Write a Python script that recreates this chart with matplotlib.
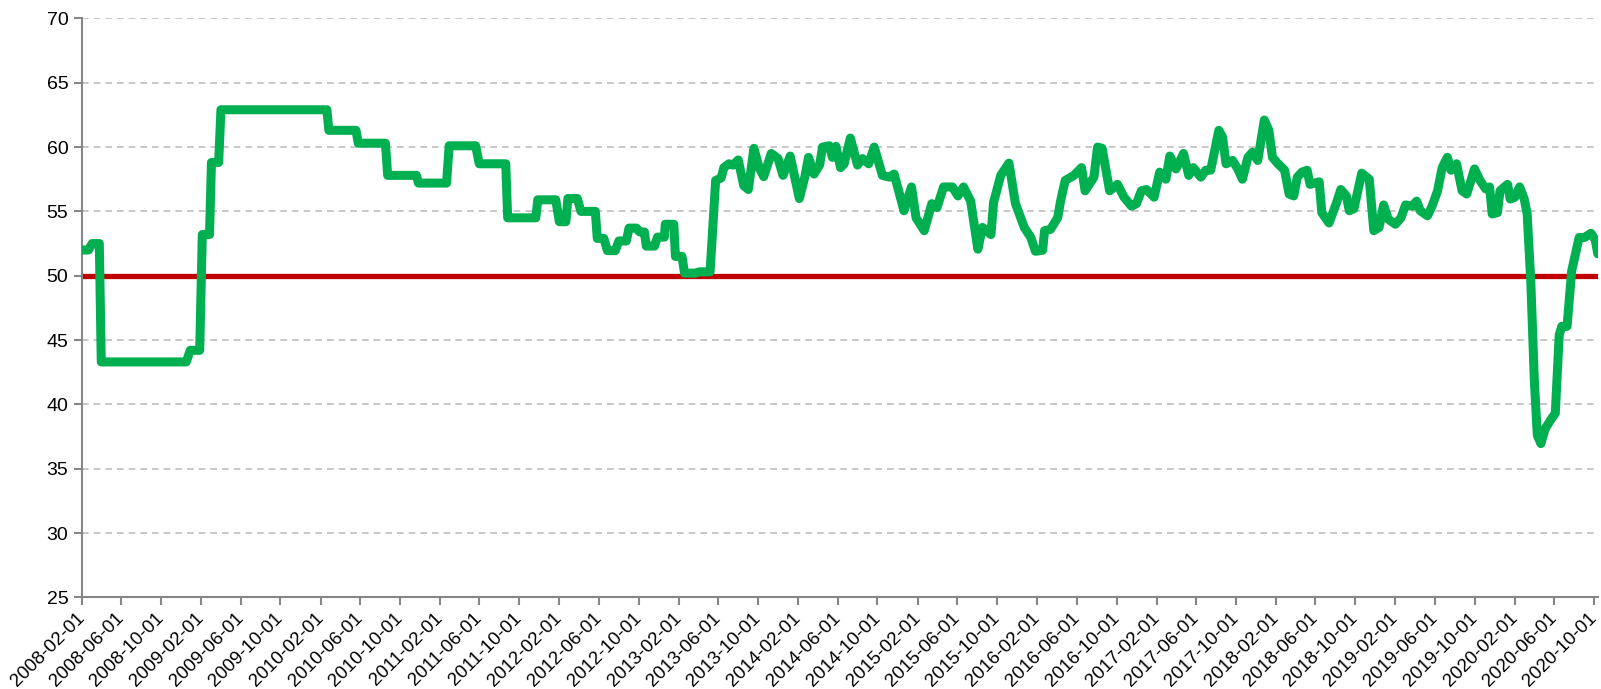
import numpy as np
import pandas as pd
import matplotlib
matplotlib.use('Agg')
import matplotlib.pyplot as plt
import matplotlib.dates as mdates
from matplotlib.transforms import ScaledTranslation

# values (vertices of the line)
dates = [
    '2008-02-01', '2008-02-22', '2008-03-04', '2008-03-26', '2008-04-01',
    '2008-12-17', '2008-12-29', '2009-01-27', '2009-02-04', '2009-02-26',
    '2009-03-04', '2009-03-26', '2009-04-02', '2010-02-20', '2010-02-26',
    '2010-05-20', '2010-05-27', '2010-08-18', '2010-08-25', '2010-11-21',
    '2010-11-27', '2011-02-21', '2011-03-01', '2011-05-21', '2011-06-01',
    '2011-08-21', '2011-08-27', '2011-11-21', '2011-11-27', '2012-01-21',
    '2012-02-01', '2012-02-21', '2012-02-27', '2012-03-27', '2012-04-07',
    '2012-05-21', '2012-05-27', '2012-06-16', '2012-06-27', '2012-07-21',
    '2012-08-01', '2012-08-24', '2012-09-01', '2012-09-24', '2012-10-04',
    '2012-10-18', '2012-10-24', '2012-11-18', '2012-11-27', '2012-12-18',
    '2012-12-21', '2013-01-16', '2013-01-21', '2013-02-10', '2013-02-18',
    '2013-03-24', '2013-04-04', '2013-05-07', '2013-05-16', '2013-05-24',
    '2013-06-10', '2013-06-18', '2013-07-04', '2013-07-16', '2013-08-01',
    '2013-08-18', '2013-09-01', '2013-09-18', '2013-10-04', '2013-10-18',
    '2013-11-10', '2013-12-01', '2013-12-16', '2014-01-07', '2014-02-04',
    '2014-02-21', '2014-03-04', '2014-03-21', '2014-04-07', '2014-04-16',
    '2014-05-07', '2014-05-16', '2014-05-27', '2014-06-10', '2014-06-21',
    '2014-07-10', '2014-08-01', '2014-08-16', '2014-09-04', '2014-09-21',
    '2014-10-16', '2014-11-07', '2014-11-21', '2014-12-21', '2015-01-13',
    '2015-01-27', '2015-02-21', '2015-03-16', '2015-04-01', '2015-04-21',
    '2015-05-18', '2015-06-04', '2015-06-21', '2015-07-13', '2015-08-04',
    '2015-08-18', '2015-09-13', '2015-09-21', '2015-10-13', '2015-11-07',
    '2015-11-27', '2015-12-24', '2016-01-13', '2016-01-27', '2016-02-18',
    '2016-02-24', '2016-03-13', '2016-04-04', '2016-04-13', '2016-04-27',
    '2016-05-24', '2016-06-16', '2016-06-27', '2016-07-24', '2016-08-04',
    '2016-08-18', '2016-09-10', '2016-10-04', '2016-10-24', '2016-11-16',
    '2016-12-01', '2016-12-16', '2017-01-01', '2017-01-24', '2017-02-10',
    '2017-03-01', '2017-03-13', '2017-04-01', '2017-04-24', '2017-05-10',
    '2017-05-24', '2017-06-16', '2017-07-01', '2017-07-16', '2017-08-10',
    '2017-08-21', '2017-09-01', '2017-09-21', '2017-10-07', '2017-10-21',
    '2017-11-07', '2017-11-21', '2017-12-07', '2017-12-27', '2018-01-10',
    '2018-01-21', '2018-02-07', '2018-02-27', '2018-03-13', '2018-03-27',
    '2018-04-07', '2018-04-21', '2018-05-07', '2018-05-16', '2018-06-13',
    '2018-06-21', '2018-07-13', '2018-08-04', '2018-08-18', '2018-09-04',
    '2018-09-13', '2018-09-27', '2018-10-21', '2018-11-13', '2018-11-27',
    '2018-12-13', '2018-12-27', '2019-01-10', '2019-02-01', '2019-02-18',
    '2019-03-04', '2019-03-24', '2019-04-07', '2019-04-18', '2019-05-10',
    '2019-05-24', '2019-06-10', '2019-06-24', '2019-07-10', '2019-07-21',
    '2019-08-07', '2019-08-24', '2019-09-07', '2019-10-01', '2019-10-18',
    '2019-11-04', '2019-11-16', '2019-11-24', '2019-12-10', '2019-12-18',
    '2020-01-10', '2020-01-18', '2020-02-01', '2020-02-16', '2020-03-01',
    '2020-03-10', '2020-03-21', '2020-04-01', '2020-04-10', '2020-04-21',
    '2020-05-04', '2020-05-21', '2020-06-04', '2020-06-16', '2020-06-24',
    '2020-07-10', '2020-07-24', '2020-08-16', '2020-09-01', '2020-09-21',
    '2020-10-04', '2020-10-12',
]
values = [
    52.0, 52.0, 52.5, 52.5, 43.3,
    43.3, 44.2, 44.2, 53.2, 53.2,
    58.8, 58.8, 62.9, 62.9, 61.3,
    61.3, 60.3, 60.3, 57.8, 57.8,
    57.2, 57.2, 60.1, 60.1, 58.7,
    58.7, 54.5, 54.5, 55.9, 55.9,
    54.2, 54.2, 56.0, 56.0, 55.0,
    55.0, 52.9, 52.9, 51.95, 51.95,
    52.7, 52.7, 53.7, 53.7, 53.4,
    53.4, 52.3, 52.3, 53.0, 53.0,
    54.0, 54.0, 51.5, 51.5, 50.2,
    50.2, 50.3, 50.3, 54.0, 57.4,
    57.6, 58.4, 58.7, 58.6, 59.0,
    57.0, 56.7, 59.9, 58.4, 57.7,
    59.5, 59.1, 57.8, 59.3, 56.0,
    57.7, 59.2, 57.9, 58.6, 60.0,
    60.1, 59.2, 60.05, 58.4, 58.7,
    60.7, 58.6, 59.1, 58.7, 60.0,
    57.8, 57.66, 57.9, 55.05, 56.9,
    54.5, 53.5, 55.6, 55.3, 56.9,
    56.9, 56.2, 56.9, 55.8, 52.06,
    53.75, 53.2, 55.7, 57.8, 58.75,
    55.6, 53.75, 52.97, 51.9, 51.98,
    53.5, 53.6, 54.5, 55.8, 57.4,
    57.8, 58.4, 56.6, 57.66, 60.0,
    59.9, 56.6, 57.1, 56.1, 55.4,
    55.6, 56.6, 56.7, 56.1, 58.05,
    57.5, 59.3, 58.3, 59.5, 57.8,
    58.4, 57.66, 58.2, 58.2, 61.3,
    60.8, 58.7, 58.96, 58.3, 57.5,
    59.2, 59.6, 58.96, 62.1, 61.3,
    59.2, 58.7, 58.2, 56.35, 56.2,
    57.66, 58.05, 58.2, 57.1, 57.3,
    54.9, 54.1, 55.6, 56.7, 56.2,
    55.05, 55.2, 57.97, 57.5, 53.5,
    53.75, 55.5, 54.4, 54.0, 54.5,
    55.5, 55.4, 55.8, 55.05, 54.66,
    55.4, 56.6, 58.4, 59.2, 58.2,
    58.7, 56.6, 56.35, 58.3, 57.4,
    56.75, 56.9, 54.8, 54.9, 56.6,
    57.1, 55.96, 56.1, 56.9, 55.96,
    54.8, 49.6, 41.8, 37.6, 36.95,
    38.1, 38.8, 39.3, 45.4, 46.07,
    46.07, 50.36, 52.97, 52.97, 53.3,
    52.8, 51.7,
]
threshold = 50
tick_dates = pd.date_range('2008-02-01', '2020-10-01', freq='4MS')
yticks = list(range(25, 71, 5))

x = pd.to_datetime(dates)

fig = plt.figure(figsize=(16.01, 6.89), dpi=100)
ax = fig.add_axes([0.051, 0.133, 0.947, 0.8403])

ax.grid(axis='y', color='#bfbfbf', linestyle=(0, (4, 3)), linewidth=1.2)
ax.set_axisbelow(True)
ax.axhline(threshold, color='#c00000', linewidth=3.8, zorder=2)
ax.plot(x, values, color='#00b050', linewidth=6.5, solid_joinstyle='round',
        solid_capstyle='round', zorder=3)

ax.set_xlim(pd.Timestamp('2008-02-01'), pd.Timestamp('2020-10-12'))
ax.set_ylim(25, 70)
ax.set_yticks(yticks)
ax.set_xticks(tick_dates)
ax.xaxis.set_major_formatter(mdates.DateFormatter('%Y-%m-%d'))

for s in ['top', 'right']:
    ax.spines[s].set_visible(False)
for s in ['left', 'bottom']:
    ax.spines[s].set_color('#868686')
    ax.spines[s].set_linewidth(1.5)

ax.tick_params(axis='both', colors='#868686', width=1.5, length=6,
               labelcolor='black', labelsize=14)
ax.tick_params(axis='x', labelsize=13.5, pad=3)
# nudge rotated labels left so their ends sit under the ticks
shift = ScaledTranslation(-6 / 100, 0, fig.dpi_scale_trans)
for lab in ax.get_yticklabels():
    lab.set_family('Liberation Sans')
for lab in ax.get_xticklabels():
    lab.set_family('Liberation Sans')
    lab.set_rotation(45)
    lab.set_ha('right')
    lab.set_rotation_mode('anchor')
    lab.set_transform(lab.get_transform() + shift)

fig.savefig('out.png', dpi=100)
